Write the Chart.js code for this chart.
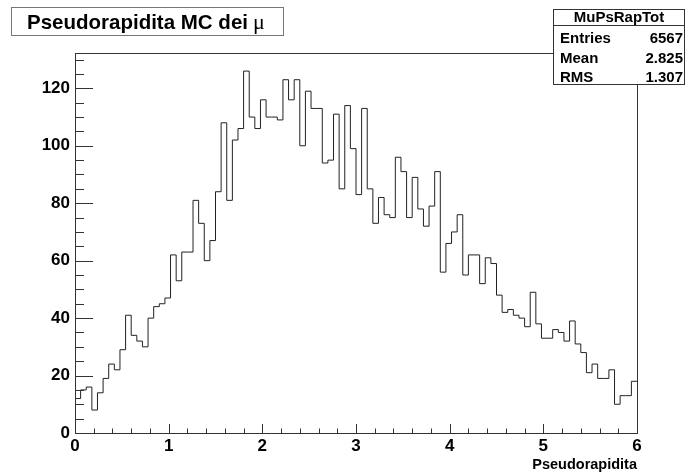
<!DOCTYPE html>
<html>
<head>
<meta charset="utf-8">
<script src="https://cdn.jsdelivr.net/npm/chart.js@4/dist/chart.umd.min.js"></script>
<style>
  html, body { margin: 0; padding: 0; background: #fff; }
  canvas { display: block; }
</style>
</head>
<body>
<canvas id="chHisto" width="685" height="476"></canvas>
<script>
// histogram MuPsRapTot: 100 bins from 0 to 6
var xMin = 0;
var xMax = 6;
var counts = [
  12, 15, 16, 8, 14, 19, 24, 22, 29, 41,
  34, 32, 30, 40, 44, 45, 47, 62, 53, 63,
  63, 81, 73, 60, 67, 84, 108, 81, 102, 106,
  126, 110, 106, 116, 110, 110, 109, 123, 116, 123,
  100, 119, 113, 113, 94, 95, 111, 85, 114, 99,
  83, 113, 85, 73, 82, 76, 75, 96, 91, 75,
  89, 78, 72, 79, 91, 56, 66, 70, 76, 55,
  62, 62, 52, 61, 59, 48, 42, 43, 41, 40,
  37, 49, 38, 33, 33, 36, 35, 32, 39, 31,
  28, 21, 24, 19, 19, 22, 10, 13, 13, 18
];
var xTicks = [0, 1, 2, 3, 4, 5, 6];
var yTicks = [0, 20, 40, 60, 80, 100, 120];
var yMax = 132.3;

var histTitle = "Pseudorapidita MC dei";
var statName = "MuPsRapTot";
var statLabels = ["Entries", "Mean", "RMS"];
var statValues = ["6567", "2.825", "1.307"];

var FONT = "'Liberation Sans', Arial, Helvetica, sans-serif";

// step outline: one point on each bin's low edge, plus the closing edge
var binW = (xMax - xMin) / counts.length;
var steps = counts.map(function (c, i) {
  return { x: xMin + i * binW, y: c };
});
steps.push({ x: xMax, y: counts[counts.length - 1] });

// frame, inward ticks, title box and stats box
var rootDecor = {
  id: "rootDecor",
  afterDraw: function (chart) {
    var ctx = chart.ctx;
    var a = chart.chartArea;
    var sx = chart.scales.x, sy = chart.scales.y;
    ctx.save();
    ctx.strokeStyle = "#333";
    ctx.lineWidth = 1;
    ctx.strokeRect(a.left + 0.5, a.top + 0.5, a.right - a.left, a.bottom - a.top);

    ctx.beginPath();
    // x ticks every 0.2, long on integers
    for (var k = 0; k <= 30; k++) {
      var xv = xMin + k * 0.2;
      var px = Math.round(sx.getPixelForValue(xv)) + 0.5;
      var len = (k % 5 === 0) ? 9 : 4.5;
      ctx.moveTo(px, a.bottom);
      ctx.lineTo(px, a.bottom - len);
    }
    // y ticks every 5, long on multiples of 20
    for (var v = 0; v <= yMax; v += 5) {
      var py = Math.round(sy.getPixelForValue(v)) + 0.5;
      var ylen = (v % 20 === 0) ? 18 : 9;
      ctx.moveTo(a.left, py);
      ctx.lineTo(a.left + ylen, py);
    }
    ctx.stroke();

    // title box
    ctx.fillStyle = "#fff";
    ctx.fillRect(11, 7, 272, 28);
    ctx.strokeStyle = "#777";
    ctx.strokeRect(11.5, 7.5, 272, 28);
    ctx.fillStyle = "#000";
    ctx.textBaseline = "alphabetic";
    ctx.textAlign = "left";
    ctx.font = "bold 20.5px " + FONT;
    ctx.fillText(histTitle, 27, 29);
    var tw = ctx.measureText(histTitle).width;
    ctx.font = "22px 'Liberation Serif', 'DejaVu Serif', serif";
    ctx.fillText("\u03bc", 27 + tw + 5, 29);

    // stats box
    ctx.fillStyle = "#fff";
    ctx.fillRect(553, 9, 132, 76);
    ctx.strokeStyle = "#333";
    ctx.strokeRect(553.5, 9.5, 131, 75);
    ctx.beginPath();
    ctx.moveTo(553, 25.5);
    ctx.lineTo(685, 25.5);
    ctx.stroke();
    ctx.fillStyle = "#000";
    ctx.font = "bold 15px " + FONT;
    ctx.textAlign = "center";
    ctx.fillText(statName, 619, 22);
    for (var r = 0; r < statLabels.length; r++) {
      var by = 43 + r * 19.5;
      ctx.textAlign = "left";
      ctx.fillText(statLabels[r], 560, by);
      ctx.textAlign = "right";
      ctx.fillText(statValues[r], 683, by);
    }
    ctx.restore();
  }
};

var tickFont = { family: FONT, size: 17, weight: "bold" };

new Chart(document.getElementById("chHisto"), {
  type: "line",
  data: {
    datasets: [
      {
        data: steps,
        stepped: true,
        borderColor: "#222",
        borderWidth: 1,
        pointRadius: 0,
        fill: false
      }
    ]
  },
  options: {
    responsive: false,
    animation: false,
    devicePixelRatio: 1,
    layout: { padding: { left: 0, right: 48, top: 53, bottom: 2 } },
    plugins: { legend: { display: false }, tooltip: { enabled: false } },
    scales: {
      x: {
        type: "linear",
        min: xMin,
        max: xMax,
        afterBuildTicks: function (s) {
          s.ticks = xTicks.map(function (v) { return { value: v }; });
        },
        ticks: { font: tickFont, color: "#000", padding: 3, maxRotation: 0 },
        grid: { display: false, drawTicks: false },
        border: { display: false },
        title: {
          display: true,
          text: "Pseudorapidita",
          align: "end",
          color: "#000",
          font: { family: FONT, size: 14.5, weight: "bold" },
          padding: 0
        },
        afterFit: function (s) { s.height = 41; }
      },
      y: {
        type: "linear",
        min: 0,
        max: yMax,
        afterBuildTicks: function (s) {
          s.ticks = yTicks.map(function (v) { return { value: v }; });
        },
        ticks: { font: tickFont, color: "#000", padding: 5 },
        grid: { display: false, drawTicks: false },
        border: { display: false },
        afterFit: function (s) { s.width = 75; }
      }
    }
  },
  plugins: [rootDecor]
});
</script>
</body>
</html>
